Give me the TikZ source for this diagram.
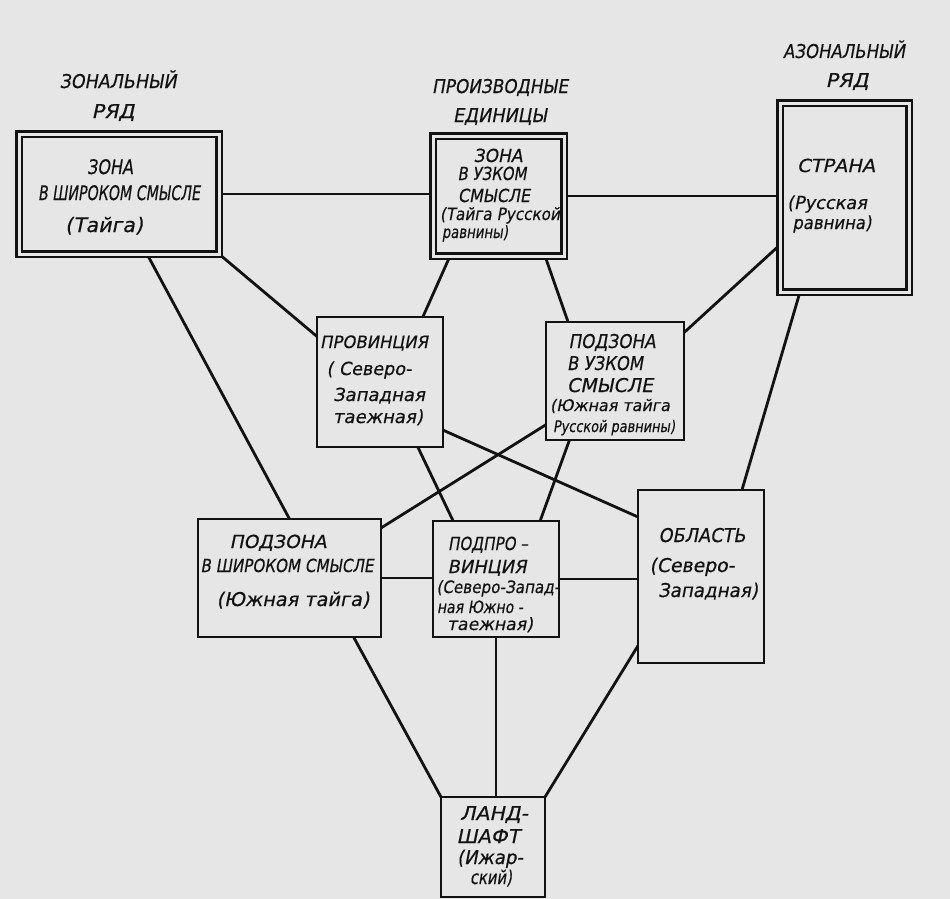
\documentclass[tikz,border=0pt]{standalone}
\usepackage{fontspec}
\usepackage{graphicx}
\setmainfont{DejaVu Sans}[FakeSlant=0.2,FakeBold=0.5]
\usetikzlibrary{calc,backgrounds}
\definecolor{paper}{RGB}{230,230,230}
\definecolor{ink}{RGB}{18,18,18}
\newcommand\W[3]{{\fontsize{#2}{#2}\selectfont\resizebox{#1pt}{\height}{#3}}}
\begin{document}
\begin{tikzpicture}[x=1pt,y=-1pt,
  box/.style={draw=ink, fill=paper, line width=2.8pt, inner sep=0pt, outer sep=0pt},
  dbox/.style={draw=ink, fill=paper, double=paper, double distance=3pt, line width=2.2pt, inner sep=0pt, outer sep=0pt},
  link/.style={draw=ink, line width=2.8pt},
  txt/.style={anchor=base, inner sep=0pt, outer sep=0pt, text=ink}]
\useasboundingbox (0,0) rectangle (950,899);

% boxes
\node[dbox, minimum width=200pt, minimum height=120pt] (zb) at (119,194) {};
\node[dbox, minimum width=131pt, minimum height=120pt] (zn) at (498.5,196) {};
\node[dbox, minimum width=129pt, minimum height=189pt] (st) at (844.5,197.5) {};
\node[box, minimum width=126pt, minimum height=130pt] (pr) at (380,382) {};
\node[box, minimum width=138pt, minimum height=118pt] (pzn) at (615,381) {};
\node[box, minimum width=183pt, minimum height=118pt] (pzb) at (289.5,578) {};
\node[box, minimum width=126pt, minimum height=116pt] (pp) at (496,579) {};
\node[box, minimum width=126pt, minimum height=173pt] (ob) at (701,576.5) {};
\node[box, minimum width=104pt, minimum height=100pt] (ls) at (493,847) {};

\begin{pgfonlayer}{background}
\fill[paper] (0,0) rectangle (950,899);
\draw[link] (zb.east) -- (zn.west |- zb.east);
\draw[link] (zn.east) -- (st.west |- zn.east);
\draw[link] ($(zb.south west)!0.64!(zb.south east)$) -- (pzb.north);
\draw[link] (zb.south east) -- ($(pr.north west)!0.15!(pr.south west)$);
\draw[link] ($(zn.south west)!0.13!(zn.south east)$) -- ($(pr.north west)!0.84!(pr.north east)$);
\draw[link] ($(zn.south west)!0.855!(zn.south east)$) -- ($(pzn.north west)!0.16!(pzn.north east)$);
\draw[link] ($(st.north west)!0.75!(st.south west)$) -- ($(pzn.north east)!0.09!(pzn.south east)$);
\draw[link] ($(st.south west)!0.155!(st.south east)$) -- ($(ob.north west)!0.825!(ob.north east)$);
\draw[link] ($(pr.south west)!0.80!(pr.south east)$) -- ($(pp.north west)!0.16!(pp.north east)$);
\draw[link] ($(pr.north east)!0.87!(pr.south east)$) -- ($(ob.north west)!0.156!(ob.south west)$);
\draw[link] ($(pzn.north west)!0.87!(pzn.south west)$) -- ($(pzb.north east)!0.076!(pzb.south east)$);
\draw[link] ($(pzn.south west)!0.17!(pzn.south east)$) -- ($(pp.north west)!0.85!(pp.north east)$);
\draw[link] (pzb.east) -- (pp.west |- pzb.east);
\draw[link] (pp.east) -- (ob.west |- pp.east);
\draw[link] ($(pzb.south west)!0.85!(pzb.south east)$) -- (ls.north west);
\draw[link] (pp.south) -- (pp.south |- ls.north);
\draw[link] ($(ob.north west)!0.9!(ob.south west)$) -- (ls.north east);
\end{pgfonlayer}

% headings
\node[txt] (h1a) at (118,88) {\W{117}{19}{ЗОНАЛЬНЫЙ}};
\node[txt] (h1b) at (113,118) {\W{43}{19}{РЯД}};
\node[txt] (h2a) at (500,93) {\W{136}{19}{ПРОИЗВОДНЫЕ}};
\node[txt] (h2b) at (500,122) {\W{94}{19}{ЕДИНИЦЫ}};
\node[txt] (h3a) at (844,58) {\W{122}{19}{АЗОНАЛЬНЫЙ}};
\node[txt] (h3b) at (847,87) {\W{43}{19}{РЯД}};

% zone broad
\node[txt] (zb1) at (110,174) {\W{46}{20}{ЗОНА}};
\node[txt] (zb2) at (119,200) {\W{162}{20}{В ШИРОКОМ СМЫСЛЕ}};
\node[txt] (zb3) at (104,232) {\W{78}{20}{(Тайга)}};

% zone narrow
\node[txt] (zn1) at (498,162) {\W{49}{18}{ЗОНА}};
\node[txt] (zn2) at (492,180) {\W{69}{18}{В УЗКОМ}};
\node[txt] (zn3) at (494,202) {\W{72}{18}{СМЫСЛЕ}};
\node[txt] (zn4) at (500,220) {\W{120}{17}{(Тайга Русской}};
\node[txt] (zn5) at (475,238) {\W{66}{17}{равнины)}};

% strana
\node[txt] (st1) at (836,172) {\W{78}{18}{СТРАНА}};
\node[txt] (st2) at (827,209) {\W{80}{18}{(Русская}};
\node[txt] (st3) at (832,229) {\W{79}{18}{равнина)}};

% provincia
\node[txt] (pr1) at (374,348) {\W{108}{17}{ПРОВИНЦИЯ}};
\node[txt] (pr2) at (369,375) {\W{85}{18}{( Северо-}};
\node[txt] (pr3) at (379,401) {\W{92}{18}{Западная}};
\node[txt] (pr4) at (378,423) {\W{90}{18}{таежная)}};

% podzona narrow
\node[txt] (pzn1) at (612,348) {\W{87}{19}{ПОДЗОНА}};
\node[txt] (pzn2) at (605,370) {\W{76}{19}{В УЗКОМ}};
\node[txt] (pzn3) at (610,392) {\W{86}{19}{СМЫСЛЕ}};
\node[txt] (pzn4) at (610,411) {\W{120}{16}{(Южная тайга}};
\node[txt] (pzn5) at (614,432) {\W{122}{16}{Русской равнины)}};

% podzona broad
\node[txt] (pzb1) at (278,548) {\W{97}{18}{ПОДЗОНА}};
\node[txt] (pzb2) at (287,572) {\W{173}{18}{В ШИРОКОМ СМЫСЛЕ}};
\node[txt] (pzb3) at (293,606) {\W{153}{19}{(Южная тайга)}};

% podprovincia
\node[txt] (pp1) at (488,550) {\W{80}{18}{ПОДПРО –}};
\node[txt] (pp2) at (487,573) {\W{79}{18}{ВИНЦИЯ}};
\node[txt] (pp3) at (498,593) {\W{123}{17}{(Северо-Запад-}};
\node[txt] (pp4) at (480,613) {\W{86}{17}{ная Южно -}};
\node[txt] (pp5) at (490,630) {\W{86}{17}{таежная)}};

% oblast
\node[txt] (ob1) at (702,542) {\W{87}{19}{ОБЛАСТЬ}};
\node[txt] (ob2) at (692,572) {\W{85}{19}{(Северо-}};
\node[txt] (ob3) at (708,597) {\W{100}{19}{Западная)}};

% landscape
\node[txt] (ls1) at (494,820) {\W{68}{19}{ЛАНД-}};
\node[txt] (ls2) at (488,843) {\W{63}{19}{ШАФТ}};
\node[txt] (ls3) at (490,864) {\W{66}{19}{(Ижар-}};
\node[txt] (ls4) at (491,884) {\W{42}{19}{ский)}};
\end{tikzpicture}
\end{document}
